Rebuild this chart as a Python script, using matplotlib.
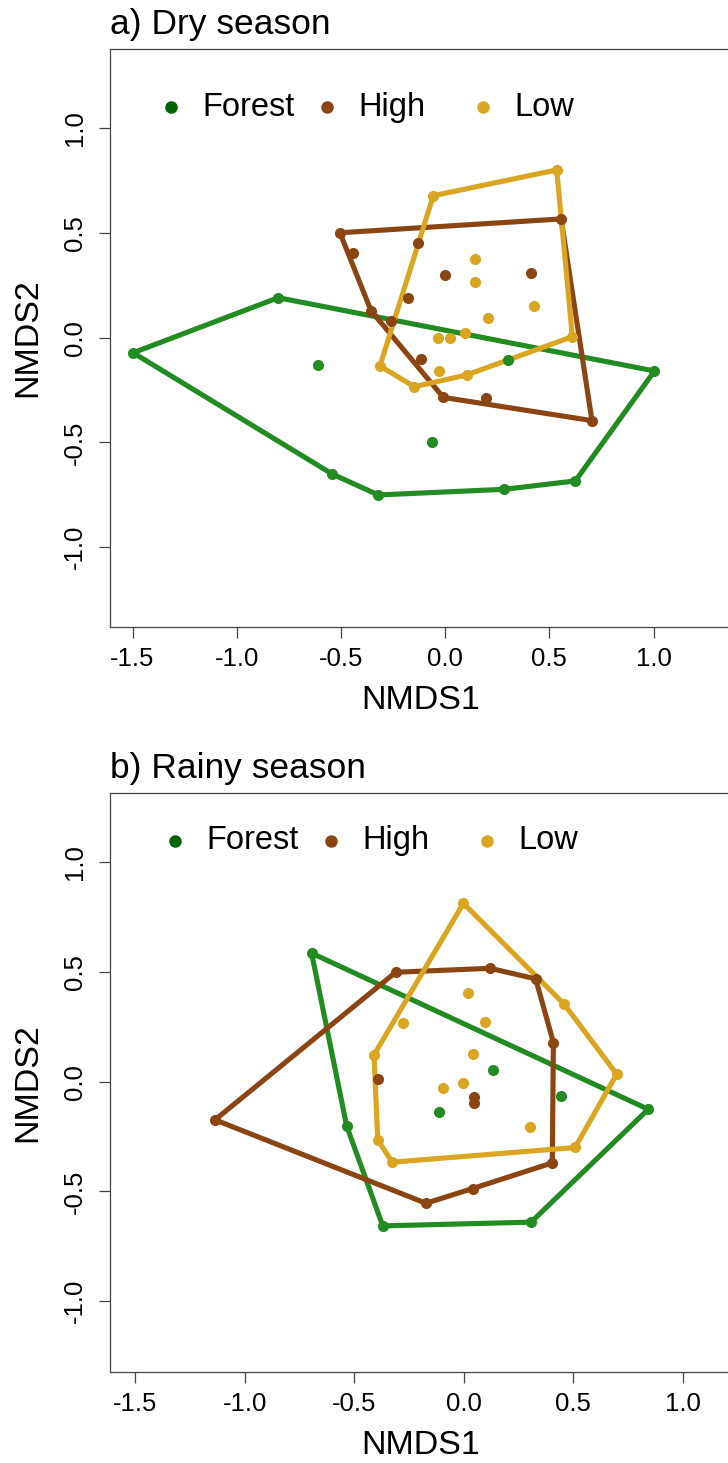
import numpy as np
import matplotlib.pyplot as plt

plt.rcParams['font.family'] = ['Liberation Sans', 'DejaVu Sans']
plt.rcParams['axes.unicode_minus'] = False

groups = ['Forest', 'High', 'Low']
colors = ['#228B22', '#8B4513', '#DAA520']
legend_colors = ['#006400', '#8B4513', '#DAA520']

# a) 旱季 NMDS 分數
dry_forest_x = [-1.497, -0.801, -0.609, -0.542, -0.321, 0.303, -0.062, 0.282, 0.624, 1.004]
dry_forest_y = [-0.072, 0.191, -0.130, -0.651, -0.751, -0.107, -0.500, -0.724, -0.684, -0.159]
dry_high_x = [-0.505, -0.441, 0.556, -0.129, -0.001, 0.410, -0.180, -0.356, -0.262, -0.118, -0.009, 0.194, 0.704]
dry_high_y = [0.501, 0.406, 0.567, 0.454, 0.299, 0.307, 0.191, 0.129, 0.080, -0.103, -0.285, -0.290, -0.396]
dry_low_x = [-0.057, 0.535, 0.610, 0.143, 0.143, 0.426, 0.204, 0.095, 0.023, -0.036, -0.313, -0.030, 0.103, -0.148]
dry_low_y = [0.678, 0.801, 0.005, 0.376, 0.266, 0.151, 0.096, 0.021, -0.003, -0.003, -0.135, -0.158, -0.178, -0.234]

# b) 雨季 NMDS 分數
rainy_forest_x = [-0.694, -0.534, -0.369, -0.111, 0.843, 0.133, 0.445, 0.308]
rainy_forest_y = [0.585, -0.202, -0.657, -0.137, -0.126, 0.053, -0.064, -0.640]
rainy_high_x = [-1.135, -0.310, -0.392, 0.047, 0.047, 0.041, -0.172, 0.121, 0.329, 0.410, 0.405]
rainy_high_y = [-0.174, 0.498, 0.011, -0.071, -0.098, -0.487, -0.554, 0.516, 0.468, 0.178, -0.370]
rainy_low_x = [-0.409, -0.278, 0.021, 0.098, 0.044, -0.095, -0.004, -0.392, -0.326, -0.001, 0.458, 0.699, 0.509, 0.303]
rainy_low_y = [0.122, 0.266, 0.405, 0.273, 0.125, -0.030, -0.005, -0.265, -0.367, 0.812, 0.354, 0.034, -0.300, -0.205]

x_ticks = [-1.5, -1.0, -0.5, 0.0, 0.5, 1.0]
y_ticks = [-1.0, -0.5, 0.0, 0.5, 1.0]


def convex_hull(xs, ys):
    # monotone chain，回傳封閉的外殼頂點
    pts = sorted(zip(xs, ys))

    def cross(o, a, b):
        return (a[0] - o[0]) * (b[1] - o[1]) - (a[1] - o[1]) * (b[0] - o[0])

    lower, upper = [], []
    for p in pts:
        while len(lower) >= 2 and cross(lower[-2], lower[-1], p) <= 0:
            lower.pop()
        lower.append(p)
    for p in reversed(pts):
        while len(upper) >= 2 and cross(upper[-2], upper[-1], p) <= 0:
            upper.pop()
        upper.append(p)
    h = lower[:-1] + upper[:-1]
    h.append(h[0])
    return [p[0] for p in h], [p[1] for p in h]


def panel(ax, data, title, xlim, ylim, leg_x0, leg_y):
    for (xs, ys), c in zip(data, colors):
        hx, hy = convex_hull(xs, ys)
        ax.plot(hx, hy, color=c, lw=3.7, solid_joinstyle='round', zorder=2)
        ax.plot(xs, ys, 'o', color=c, ms=8, mec='none', zorder=3)

    ax.set_xlim(xlim)
    ax.set_ylim(ylim)
    ax.set_xticks(x_ticks)
    ax.set_xticklabels([f"{v:.1f}" for v in x_ticks])
    ax.set_yticks(y_ticks)
    ax.set_yticklabels([f"{v:.1f}" for v in y_ticks], rotation=90, va='center')
    ax.tick_params(direction='out', length=7.7, width=0.9, color='#444444',
                   labelsize=18.5, pad=7)
    ax.tick_params(axis='y', pad=9)
    for s in ax.spines.values():
        s.set_color('#444444')
        s.set_linewidth(0.9)

    ax.set_xlabel('NMDS1', fontsize=24.5, va='center')
    ax.set_ylabel('NMDS2', fontsize=24.5, va='center')
    ax.xaxis.set_label_coords(0.5, -0.127)
    ax.yaxis.set_label_coords(-0.132, 0.5)

    ax.text(0.0, 1.043, title, transform=ax.transAxes, ha='left', va='center', fontsize=25.5)

    # 水平圖例
    for i, (g, c) in enumerate(zip(groups, legend_colors)):
        ax.plot(leg_x0 + i * 0.2506, leg_y, 'o', color=c, ms=9, mec='none',
                transform=ax.transAxes, clip_on=False)
        ax.text(leg_x0 + i * 0.2506 + 0.0505, leg_y, g, transform=ax.transAxes,
                ha='left', va='center', fontsize=23.5)


fig = plt.figure(figsize=(7.28, 14.63), dpi=100)

ax1 = fig.add_axes([110 / 728, 0.57163, 621 / 728, 0.39467])
panel(ax1,
      [(dry_forest_x, dry_forest_y), (dry_high_x, dry_high_y), (dry_low_x, dry_low_y)],
      'a) Dry season', (-1.608, 1.371), (-1.380, 1.377), 0.0987, 0.8995)

ax2 = fig.add_axes([110 / 728, 0.06241, 621 / 728, 0.39535])
panel(ax2,
      [(rainy_forest_x, rainy_forest_y), (rainy_high_x, rainy_high_y), (rainy_low_x, rainy_low_y)],
      'b) Rainy season', (-1.6146, 1.221), (-1.321, 1.313), 0.1052, 0.918)

fig.savefig('out.png', dpi=100)
